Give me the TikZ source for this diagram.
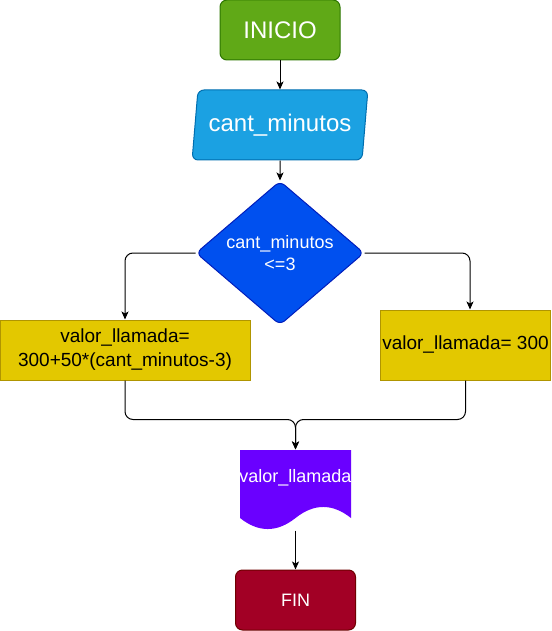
\documentclass[tikz,border=0pt]{standalone}
\usepackage{fontspec}
\setmainfont{Liberation Sans}
\usepackage{xcolor}
\usetikzlibrary{shapes.geometric}
\usetikzlibrary{arrows.meta}
\usetikzlibrary{calc}
\usetikzlibrary{backgrounds}

\definecolor{greenFill}{HTML}{60A917}
\definecolor{greenLine}{HTML}{2D7600}
\definecolor{cyanFill}{HTML}{1BA1E2}
\definecolor{cyanLine}{HTML}{006EAF}
\definecolor{blueFill}{HTML}{0050EF}
\definecolor{blueLine}{HTML}{001DBC}
\definecolor{yellowFill}{HTML}{E3C800}
\definecolor{yellowLine}{HTML}{B09500}
\definecolor{violetFill}{HTML}{6A00FF}
\definecolor{redFill}{HTML}{A20025}
\definecolor{redLine}{HTML}{6F0000}

\tikzset{
  terminal/.style={rectangle, rounded corners=7pt, minimum width=120pt,
    minimum height=60pt, inner sep=0pt, text=white},
  inputbox/.style={trapezium, trapezium left angle=77, trapezium right angle=103,
    trapezium stretches=true, rounded corners=6pt, minimum width=176pt,
    minimum height=70pt, inner sep=0pt, fill=cyanFill, draw=cyanLine, text=white,
    font=\fontsize{24}{29}\selectfont},
  decision/.style={diamond, aspect=1.17, rounded corners=6pt, inner sep=0pt,
    minimum width=168pt, minimum height=144pt, fill=blueFill, draw=blueLine,
    text=white, align=center, font=\fontsize{18}{22}\selectfont},
  process/.style={rectangle, inner sep=0pt, fill=yellowFill, draw=yellowLine,
    align=center, font=\fontsize{19}{24}\selectfont},
  outdoc/.style={rectangle, inner sep=0pt, minimum width=111pt, minimum height=80pt,
    text=white, font=\fontsize{18}{22}\selectfont},
  link/.style={-{Stealth[length=8pt,width=7pt,inset=2pt]}, rounded corners=8pt},
}

\begin{document}
\begin{tikzpicture}[x=1pt,y=-1pt,line width=1pt]
  \useasboundingbox (0,0) rectangle (551,631);

  % Start and data input
  \node[terminal, fill=greenFill, draw=greenLine, font=\fontsize{24}{29}\selectfont]
    (inicio) at (280,30) {INICIO};
  \node[inputbox] (leer) at (280,125) {cant\_minutos};

  % Condition
  \node[decision] (cond) at (280,253) {cant\_minutos\\<=3};

  % Both branches
  \node[process, minimum width=250pt, minimum height=60pt] (calc) at (125,350)
    {valor\_llamada=\\300+50*(cant\_minutos-3)};
  \node[process, minimum width=170pt, minimum height=70pt] (fijo) at (465.5,345)
    {valor\_llamada= 300};

  % Output and end
  \node[outdoc] (salida) at (295.5,490) {};
  \begin{scope}[on background layer]
    \fill[violetFill] (240,450) -- (351,450) -- (351,518)
      .. controls (332.5,503.3) and (314,503.3) .. (295.5,518)
      .. controls (277,532.7) and (258.5,532.7) .. (240,518) -- cycle;
  \end{scope}
  \node[text=white, font=\fontsize{18}{22}\selectfont] at (295.5,478) {valor\_llamada};
  \node[terminal, fill=redFill, draw=redLine, font=\fontsize{18}{22}\selectfont]
    (fin) at (295.5,600) {FIN};

  % Connectors
  \coordinate (join) at ([yshift=30pt]salida.north);
  \draw[link] (inicio) -- (leer);
  \draw[link] (leer) -- (cond);
  \draw[link] (cond.west) -| (calc.north);
  \draw[link] (cond.east) -| ([xshift=4.5pt]fijo.north);
  \draw[link] (calc.south) |- (join) -- (salida.north);
  \draw[link] (fijo.south) |- (join) -- (salida.north);
  \draw[link] (salida.south) -- (fin.north);
\end{tikzpicture}
\end{document}
